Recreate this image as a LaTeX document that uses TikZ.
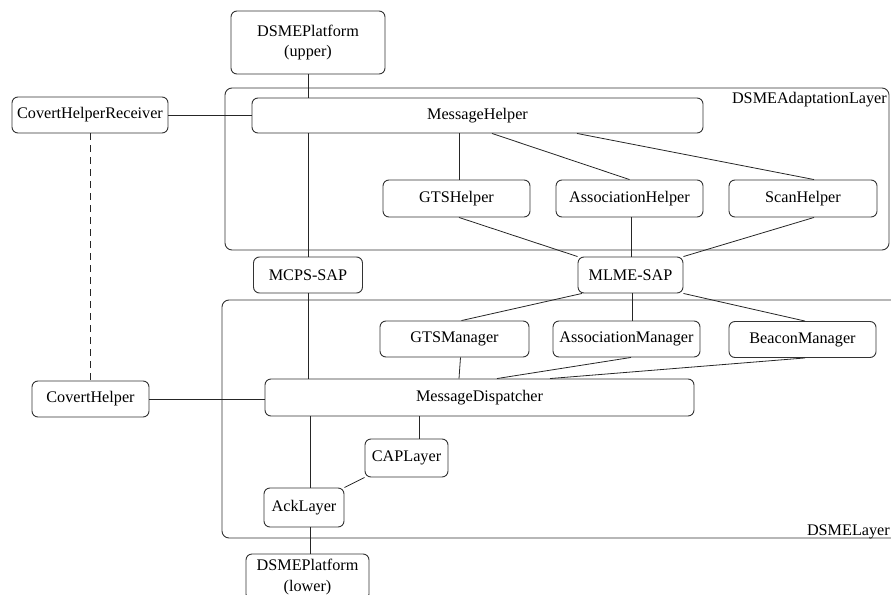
\documentclass[tikz,border=0pt]{standalone}
\usepackage{fontspec}
\setmainfont{Liberation Serif}
\begin{document}
\begin{tikzpicture}[x=1pt,y=-1pt,
  box/.style={draw=black!80, line width=0.9pt, rounded corners=6pt, inner sep=0pt,
    font=\fontsize{16.2}{20.5}\selectfont, align=center},
  layer/.style={draw=black!80, line width=0.9pt, rounded corners=7pt},
  link/.style={draw=black!85, line width=0.8pt},
  lbl/.style={inner sep=0pt, font=\fontsize{16.2}{20}\selectfont}]
\useasboundingbox (0,0) rectangle (891,594);
\clip (0,0) rectangle (891,594);

% layer frames
\draw[layer] (225,88) rectangle (889,250);
\draw[layer] (222,300) rectangle (910,538);
\node[lbl, anchor=base east] (adlbl) at (887,103) {DSMEAdaptationLayer};
\node[lbl, anchor=base east] (dllbl) at (890,535) {DSMELayer};

% components
\node[box, minimum width=154pt, minimum height=63pt] (pu) at (308,42.5) {DSMEPlatform\\(upper)};
\node[box, minimum width=156pt, minimum height=36pt] (chr) at (90,115) {CovertHelperReceiver};
\node[box, minimum width=451pt, minimum height=35pt] (mh) at (477.5,115.5) {MessageHelper};
\node[box, minimum width=147pt, minimum height=37pt] (gh) at (456.5,198.5) {GTSHelper};
\node[box, minimum width=147pt, minimum height=37pt] (ah) at (629.5,198.5) {AssociationHelper};
\node[box, minimum width=148pt, minimum height=37pt] (sh) at (803,198.5) {ScanHelper};
\node[box, minimum width=109pt, minimum height=36pt] (mcps) at (308,275) {MCPS-SAP};
\node[box, minimum width=105pt, minimum height=36pt] (mlme) at (630.5,275) {MLME-SAP};
\node[box, minimum width=149pt, minimum height=36pt] (gm) at (454.5,339) {GTSManager};
\node[box, minimum width=147pt, minimum height=36pt] (am) at (626.5,339) {AssociationManager};
\node[box, minimum width=147pt, minimum height=36pt] (bm) at (802.5,339.5) {BeaconManager};
\node[box, minimum width=429pt, minimum height=37pt] (md) at (479.5,397.5) {MessageDispatcher};
\node[box, minimum width=117pt, minimum height=36pt] (ch) at (90.5,399) {CovertHelper};
\node[box, minimum width=83pt, minimum height=38pt] (cap) at (406.5,458) {CAPLayer};
\node[box, minimum width=80pt, minimum height=39pt] (ack) at (304,507.5) {AckLayer};
\node[box, minimum width=123pt, minimum height=46pt] (pl) at (307.5,577) {DSMEPlatform\\(lower)};

% connections, adaptation layer
\draw[link] (pu.south) -- (pu.south |- mh.north);
\draw[link] (chr.east) -- (chr.east -| mh.west);
\draw[link, dashed, dash pattern=on 7pt off 5pt] (chr.south) -- (chr.south |- ch.north);
\draw[link] (mcps.north) -- (mcps.north |- mh.south);
\draw[link] ([xshift=2.5pt]gh.north) -- ([xshift=2.5pt]gh.north |- mh.south);
\draw[link] ([xshift=14.5pt]mh.south) -- (ah.north);
\draw[link] ([xshift=99.5pt]mh.south) -- ([xshift=11pt]sh.north);
\draw[link] ([xshift=2.5pt]gh.south) -- (mlme.north west);
\draw[link] ([xshift=1.5pt]ah.south) -- ([xshift=1.5pt]ah.south |- mlme.north);
\draw[link] ([xshift=11pt]sh.south) -- (mlme.north east);

% connections, DSME layer
\draw[link] ([xshift=-48.5pt]mlme.south) -- ([xshift=7pt]gm.north);
\draw[link] ([xshift=1.5pt]mlme.south) -- ([xshift=1.5pt]mlme.south |- am.north);
\draw[link] (mlme.south east) -- ([xshift=2.5pt]bm.north);
\draw[link] ([xshift=6pt]gm.south) -- ([xshift=-20.5pt]md.north);
\draw[link] ([xshift=4.5pt]am.south) -- ([xshift=17.5pt]md.north);
\draw[link] ([xshift=2.5pt]bm.south) -- ([xshift=70.5pt]md.north);
\draw[link] (mcps.south) -- (mcps.south |- md.north);
\draw[link] (ch.east) -- (ch.east -| md.west);
\draw[link] ([xshift=6pt]ack.north) -- ([xshift=6pt]ack.north |- md.south);
\draw[link] ([xshift=12.5pt]cap.north) -- ([xshift=12.5pt]cap.north |- md.south);
\draw[link] (cap.south west) -- (ack.north east);
\draw[link] ([xshift=6pt]ack.south) -- ([xshift=6pt]ack.south |- pl.north);
\end{tikzpicture}
\end{document}
